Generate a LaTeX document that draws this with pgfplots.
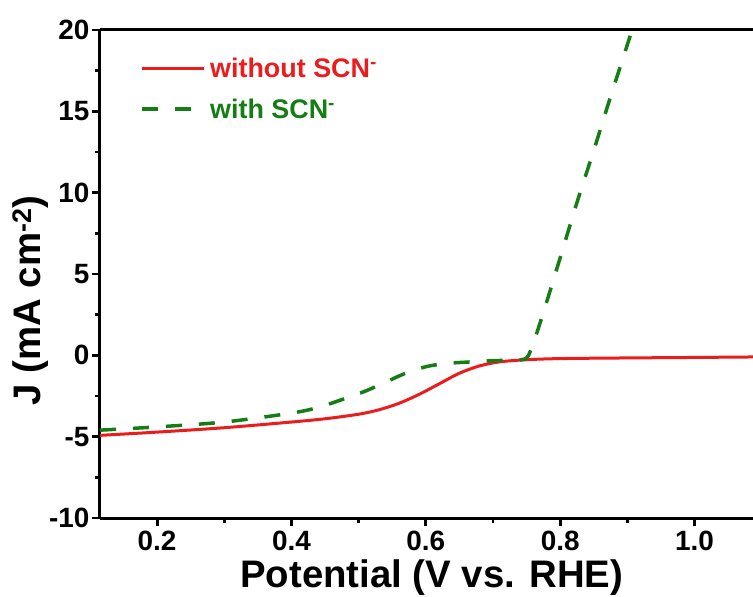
\documentclass[border=0pt]{standalone}
\usepackage{fontspec}
\setmainfont{Liberation Sans}
\usepackage{pgfplots}
\pgfplotsset{compat=1.18}
\definecolor{lsvred}{RGB}{235,28,28}
\definecolor{lsvgreen}{RGB}{20,125,20}

\begin{document}
\begin{tikzpicture}
\begin{axis}[
  at={(0,0)}, anchor=south west,
  width=653bp, height=488bp, scale only axis,
  xmin=0.115, xmax=1.087, ymin=-10, ymax=20,
  separate axis lines,
  axis x line*=box, axis y line*=left,
  axis line style={line width=3bp, -},
  xtick={0.2,0.4,0.6,0.8,1.0}, xticklabels={0.2,0.4,0.6,0.8,1.0},
  ytick={-10,-5,0,5,10,15,20}, yticklabels={-10,-5,0,5,10,15,20},
  minor x tick num=1, minor y tick num=1,
  tick align=outside, tick pos=left,
  major tick length=8bp, minor tick length=5bp,
  tick style={line width=2.8bp, black},
  ticklabel style={font=\fontsize{28}{28}\selectfont\bfseries},
  xticklabel style={yshift=-1bp},
  yticklabel style={xshift=1bp},
  xlabel={\bfseries Potential (V vs. RHE)},
  ylabel={\bfseries J (mA cm\textsuperscript{-2})},
  label style={font=\fontsize{38.5}{38.5}\selectfont},
  xlabel style={at={(axis description cs:0.508,0)}, anchor=center, yshift=-60bp, inner sep=0pt},
  ylabel style={at={(axis description cs:-0.107,0.446)}, anchor=center, inner sep=0pt},
  legend style={at={(axis description cs:0.062,0.952)}, anchor=north west,
    draw=none, fill=none, font=\fontsize{27}{27}\selectfont\bfseries,
    row sep=12bp, inner sep=0pt, nodes={inner sep=4bp}},
  legend cell align=left,
  legend image code/.code={\draw[#1] (2bp,0bp) -- (64bp,0bp);},
]
\addplot[lsvred, line width=3bp, smooth] coordinates {
  (0.115,-4.92) (0.2,-4.72) (0.3,-4.45) (0.4,-4.1) (0.45,-3.9) (0.5,-3.62)
  (0.53,-3.35) (0.56,-2.95) (0.59,-2.4) (0.62,-1.75) (0.65,-1.1) (0.68,-0.65)
  (0.71,-0.4) (0.75,-0.27) (0.8,-0.2) (0.9,-0.16) (1.0,-0.13) (1.087,-0.1)
};
\addlegendentry{\textcolor{lsvred}{without SCN\textsuperscript{-}}}
\addplot[lsvgreen, line width=3.5bp, dash pattern=on 16bp off 17bp, smooth] coordinates {
  (0.115,-4.6) (0.2,-4.4) (0.3,-4.1) (0.4,-3.55) (0.44,-3.2) (0.48,-2.65)
  (0.51,-2.2) (0.54,-1.65) (0.57,-1.1) (0.6,-0.7) (0.63,-0.5) (0.66,-0.42)
  (0.7,-0.33) (0.74,-0.28) (0.75,-0.15) (0.755,0.2) (0.765,1.35) (0.78,3.3)
  (0.8,6.0) (0.825,9.4) (0.85,12.6) (0.875,15.9) (0.907,20) (0.92,21.7)
};
\addlegendentry{\textcolor{lsvgreen}{with SCN\textsuperscript{-}}}
\end{axis}
\pgfresetboundingbox
\path[use as bounding box] (-100bp,-79bp) rectangle (653bp,518bp);
\end{tikzpicture}
\end{document}
